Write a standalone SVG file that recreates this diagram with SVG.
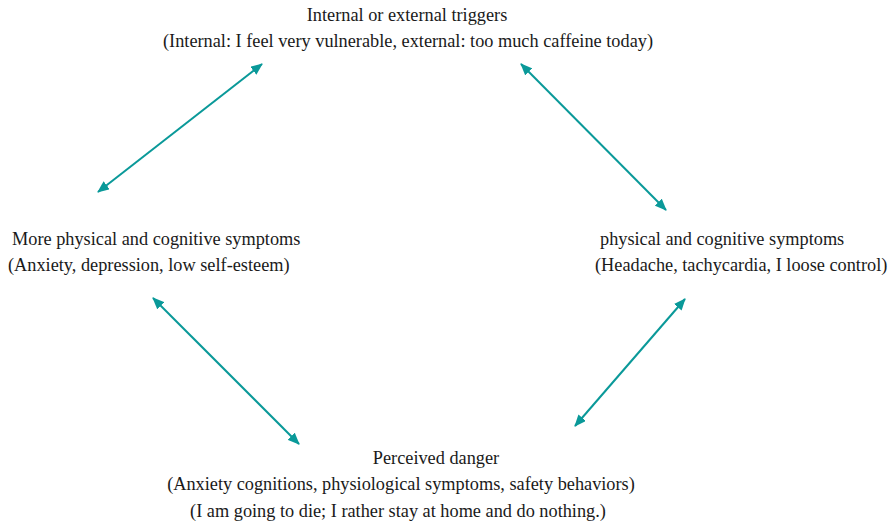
<svg xmlns="http://www.w3.org/2000/svg" width="893" height="524" viewBox="0 0 893 524">
  <style>
    text { font-family: "Liberation Serif", "Times New Roman", serif; font-size: 18.3px; fill: #1a1a1a; }
    .c { text-anchor: middle; }
    .link { stroke: #0a9999; stroke-width: 2; fill: none; marker-start: url(#head); marker-end: url(#head); }
  </style>
  <defs>
    <marker id="head" viewBox="0 0 12 10" refX="11" refY="5" markerWidth="12" markerHeight="10" markerUnits="userSpaceOnUse" orient="auto-start-reverse">
      <path d="M0,0 L12,5 L0,10 Z" fill="#0a9999"/>
    </marker>
  </defs>
  <rect width="893" height="524" fill="#ffffff"/>

  <g id="triggers">
    <text class="c" x="407" y="21">Internal or external triggers</text>
    <text class="c" x="408" y="47">(Internal: I feel very vulnerable, external: too much caffeine today)</text>
  </g>

  <g id="symptoms">
    <text x="600" y="245">physical and cognitive symptoms</text>
    <text x="595" y="271">(Headache, tachycardia, I loose control)</text>
  </g>

  <g id="more-symptoms">
    <text x="12" y="245">More physical and cognitive symptoms</text>
    <text x="8" y="271">(Anxiety, depression, low self-esteem)</text>
  </g>

  <g id="danger">
    <text class="c" x="436" y="464">Perceived danger</text>
    <text class="c" x="401" y="490">(Anxiety cognitions, physiological symptoms, safety behaviors)</text>
    <text class="c" x="398" y="517">(I am going to die; I rather stay at home and do nothing.)</text>
  </g>

  <g id="connectors">
    <line class="link" x1="98" y1="192" x2="262" y2="64"/>
    <line class="link" x1="521" y1="64" x2="666" y2="210"/>
    <line class="link" x1="685" y1="299" x2="575" y2="426"/>
    <line class="link" x1="153" y1="298" x2="299" y2="444"/>
  </g>
</svg>
